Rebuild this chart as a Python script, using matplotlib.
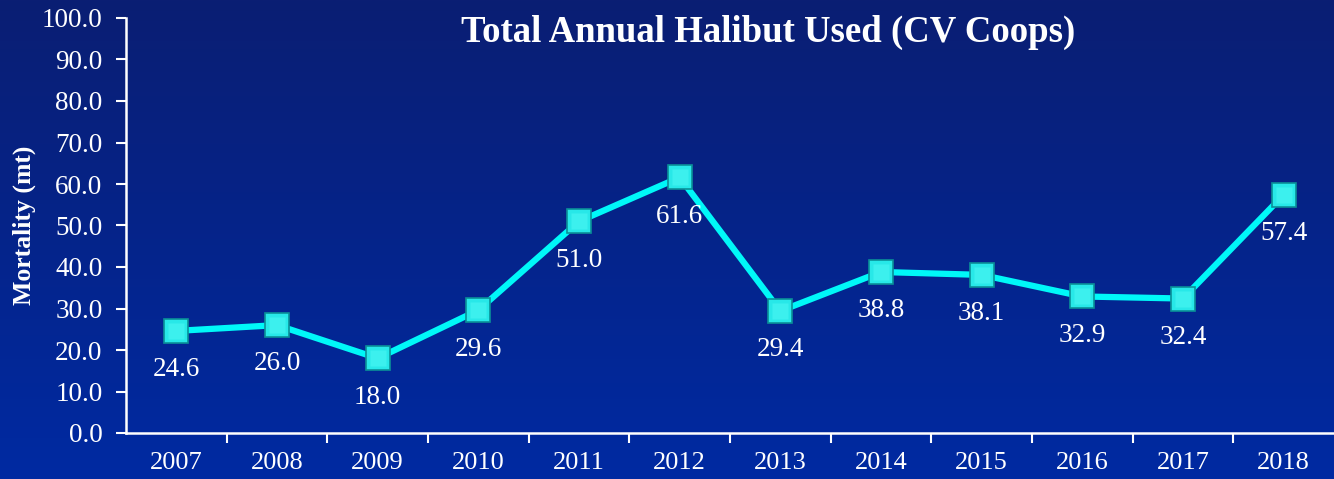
import numpy as np
import matplotlib
matplotlib.use("Agg")
import matplotlib.pyplot as plt

years = ["2007", "2008", "2009", "2010", "2011", "2012",
         "2013", "2014", "2015", "2016", "2017", "2018"]
mortality = [24.6, 26.0, 18.0, 29.6, 51.0, 61.6, 29.4, 38.8, 38.1, 32.9, 32.4, 57.4]
y_ticks = [0, 10, 20, 30, 40, 50, 60, 70, 80, 90, 100]

plt.rcParams['font.family'] = ['Liberation Serif', 'DejaVu Serif']

fig = plt.figure(figsize=(13.34, 4.79), dpi=100)

# background gradient, dark navy at top to brighter blue at bottom
bg = fig.add_axes([0, 0, 1, 1])
top = np.array([10, 30, 115]) / 255
bot = np.array([0, 42, 162]) / 255
t = np.linspace(0, 1, 256)[:, None]
grad = top + (bot - top) * t
bg.imshow(grad[:, None, :].repeat(2, axis=1), aspect='auto', extent=[0, 1, 0, 1])
bg.set_axis_off()

ax = fig.add_axes([126 / 1334, 46 / 479, 1 - 126 / 1334, (433 - 18) / 479])
ax.patch.set_alpha(0)

x = np.arange(len(years))
ax.plot(x, mortality, color='#00f8f8', lw=4.5, zorder=3)
ax.plot(x, mortality, ls='none', marker='s', ms=17, mfc='#28e8e8',
        mec='#0a9098', mew=1.2, zorder=4)
ax.plot(x, mortality, ls='none', marker='s', ms=11, mfc='#50f8f4',
        mec='none', alpha=0.5, zorder=5)

for xi, v in zip(x, mortality):
    ax.annotate(f"{v:.1f}", (xi, v), xytext=(0, -28), textcoords='offset points',
                ha='center', va='center', color='white', fontsize=19.5)

ax.set_xlim(-0.5, len(years) - 0.5)
ax.set_ylim(0, 100)
ax.set_yticks(y_ticks)
ax.set_yticklabels([f"{v:.1f}" for v in y_ticks], color='white', fontsize=19.5)
ax.set_xticks(x)
ax.set_xticklabels(years, color='white', fontsize=19)
ax.set_xticks(np.arange(0.5, len(years) - 0.5), minor=True)
ax.tick_params(axis='x', which='major', length=0, pad=14)
ax.tick_params(axis='x', which='minor', length=7, width=1.5, color='white', direction='out')
ax.tick_params(axis='y', length=7, width=1.5, color='white', direction='out', pad=10)

for s in ['top', 'right']:
    ax.spines[s].set_visible(False)
for s in ['left', 'bottom']:
    ax.spines[s].set_color('white')
    ax.spines[s].set_linewidth(1.8)

ax.set_ylabel("Mortality (mt)", color='white', fontsize=18.5, fontweight='bold', labelpad=4)

fig.text(768 / 1334, 1 - 32 / 479, "Total Annual Halibut Used (CV Coops)",
         ha='center', va='center', color='white', fontsize=26.5, fontweight='bold')

fig.savefig("out.png", dpi=100)
